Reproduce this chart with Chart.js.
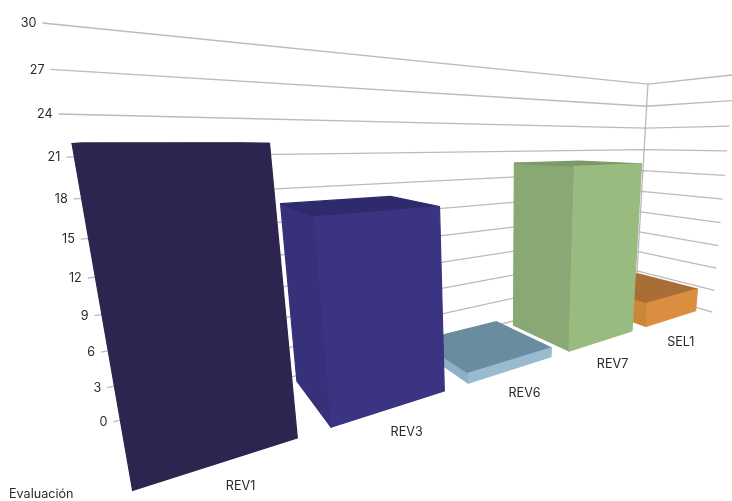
<!DOCTYPE html>
<html>
<head>
<meta charset="utf-8">
<style>html,body{margin:0;padding:0;background:#fff}canvas{display:block}</style>
<script src="https://cdn.jsdelivr.net/npm/chart.js@4"></script>
</head>
<body>
<canvas id="c" width="732" height="501"></canvas>
<script>
// Series
const categories = ['REV1', 'REV3', 'REV6', 'REV7', 'SEL1'];
const evaluacion = [22, 16.8, 1, 19.7, 3];
const axisTitle = 'Evaluación';
const axisMax = 30;
const axisStep = 3;

// Face shades per category
const frontColors = ['#2e2450', '#3a3482', '#98bbcf', '#9abb80', '#d98f3f'];
const sideColors  = ['#2e2450', '#37317b', '#8db0c6', '#89a873', '#cb8739'];
const topColors   = ['#2e2450', '#2e2a6b', '#6a8c9f', '#7c9a67', '#a96e35'];
const gridColor = '#bcbabc';
const textColor = '#2a2a2a';
const fontFamily = 'Inter, "Open Sans", sans-serif';

// Three-point perspective: the corner of the two walls at value 0 and the
// vanishing points of the long wall, the short wall and the verticals.
const corner = [636, 290];
const vanishX = [1223, 142];
const vanishZ = [119, 141];
const vanishY = [502, 2605];
const longWall = -0.4725;   // full category axis
const gridStart = -0.471;   // where the gridlines begin on the long wall
const shortWall = -0.1287;  // depth of the floor
const fullHeight = -0.0817; // full value axis
const depthFront = -0.112;
const depthBack = -0.0125;
const labelDepth = -0.121;
const labelShift = 0.0092;

function project(s, q, r) {
  const w = 1 + s + q + r;
  return [
    (corner[0] + s * vanishX[0] + q * vanishY[0] + r * vanishZ[0]) / w,
    (corner[1] + s * vanishX[1] + q * vanishY[1] + r * vanishZ[1]) / w
  ];
}

// Scale pixels to model parameters
const toS = (area, px) => longWall * (1 - (px - area.left) / area.width);
const toQ = (area, py) => fullHeight * (area.bottom - py) / area.height;

function fillFace(ctx, pts, color) {
  let sum = 0;
  pts.forEach((p, i) => {
    const n = pts[(i + 1) % pts.length];
    sum += p[0] * n[1] - n[0] * p[1];
  });
  if (sum >= 0) return; // faces away from the camera
  ctx.beginPath();
  pts.forEach((p, i) => i ? ctx.lineTo(p[0], p[1]) : ctx.moveTo(p[0], p[1]));
  ctx.closePath();
  ctx.fillStyle = color;
  ctx.strokeStyle = color;
  ctx.lineWidth = 1.2;
  ctx.lineJoin = 'round';
  ctx.fill();
  ctx.stroke();
}

// Bar controller that paints each bar as a prism in the perspective model
class Prism extends Chart.BarController {
  draw() {
    const ctx = this.chart.ctx;
    const area = this.chart.chartArea;
    const bars = this.getMeta().data;
    for (let i = bars.length - 1; i >= 0; i--) {
      const b = bars[i];
      const sL = toS(area, b.x - b.width / 2);
      const sR = toS(area, b.x + b.width / 2);
      const q0 = toQ(area, b.base);
      const qT = toQ(area, b.y);
      const rF = depthFront, rB = depthBack;
      fillFace(ctx, [project(sL, q0, rB), project(sL, q0, rF), project(sL, qT, rF), project(sL, qT, rB)], sideColors[i]);
      fillFace(ctx, [project(sL, qT, rF), project(sR, qT, rF), project(sR, qT, rB), project(sL, qT, rB)], topColors[i]);
      fillFace(ctx, [project(sL, q0, rF), project(sR, q0, rF), project(sR, qT, rF), project(sL, qT, rF)], frontColors[i]);
    }
  }
}
Prism.id = 'prism';
Prism.defaults = Chart.BarController.defaults;
Chart.register(Prism);

// Walls, tick labels and category labels
const walls = {
  id: 'walls',
  beforeDatasetsDraw(chart) {
    const { ctx, chartArea: area, scales: { y } } = chart;
    ctx.save();
    ctx.strokeStyle = gridColor;
    ctx.lineWidth = 1.3;
    ctx.fillStyle = textColor;
    ctx.font = '12.6px ' + fontFamily;
    ctx.textAlign = 'right';
    ctx.textBaseline = 'middle';
    y.ticks.forEach(t => {
      const q = toQ(area, y.getPixelForValue(t.value));
      const a = project(gridStart, q, 0);
      const c = project(0, q, 0);
      const e = project(0, q, shortWall);
      ctx.beginPath();
      ctx.moveTo(a[0], a[1]);
      ctx.lineTo(c[0], c[1]);
      ctx.lineTo(e[0], e[1]);
      ctx.stroke();
      ctx.fillText(t.label, a[0] - 6, a[1] + 0.5);
    });
    const top = project(0, fullHeight, 0);
    ctx.beginPath();
    ctx.moveTo(corner[0], corner[1]);
    ctx.lineTo(top[0], top[1]);
    ctx.stroke();
    ctx.restore();
  },
  afterDatasetsDraw(chart) {
    const { ctx, chartArea: area, scales: { x, y } } = chart;
    ctx.save();
    ctx.fillStyle = textColor;
    ctx.font = '12.6px ' + fontFamily;
    ctx.textAlign = 'center';
    ctx.textBaseline = 'middle';
    x.ticks.forEach((t, i) => {
      const p = project(toS(area, x.getPixelForTick(i)) + labelShift, 0, labelDepth);
      ctx.fillText(categories[i], p[0] - 3, p[1] + 24);
    });
    ctx.textAlign = 'left';
    ctx.fillText(y.options.title.text, 9, 494);
    ctx.restore();
  }
};

new Chart(document.getElementById('c'), {
  type: 'prism',
  data: {
    labels: categories,
    datasets: [{ label: axisTitle, data: evaluacion, backgroundColor: frontColors, barPercentage: 0.8, categoryPercentage: 1 }]
  },
  options: {
    responsive: false,
    animation: false,
    layout: { padding: 0 },
    plugins: { legend: { display: false }, tooltip: { enabled: false } },
    scales: {
      x: { type: 'category', display: false, offset: true },
      y: { type: 'linear', display: false, min: 0, max: axisMax, ticks: { stepSize: axisStep }, title: { text: axisTitle } }
    }
  },
  plugins: [walls]
});
</script>
</body>
</html>
